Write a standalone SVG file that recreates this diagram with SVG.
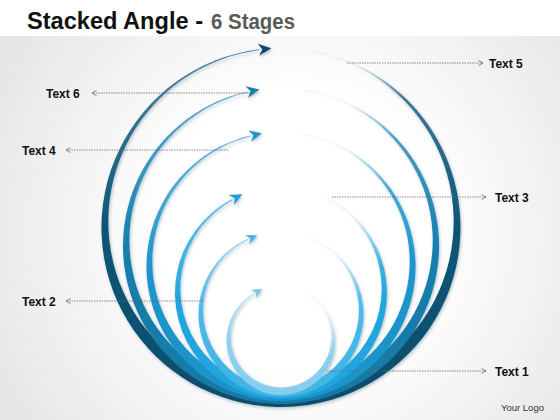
<svg xmlns="http://www.w3.org/2000/svg" width="560" height="420" viewBox="0 0 560 420">
  <defs>
    <radialGradient id="bg" cx="300" cy="230" r="340" gradientUnits="userSpaceOnUse">
      <stop offset="0.4" stop-color="#ffffff"/>
      <stop offset="1" stop-color="#e6e6e6"/>
    </radialGradient>
    <radialGradient id="mk">
      <stop offset="0" stop-color="#000" stop-opacity="1"/>
      <stop offset="0.45" stop-color="#000" stop-opacity="0.88"/>
      <stop offset="0.7" stop-color="#000" stop-opacity="0.5"/>
      <stop offset="1" stop-color="#000" stop-opacity="0"/>
    </radialGradient>
    <linearGradient id="g1" x1="0" y1="0" x2="0" y2="1"><stop offset="0" stop-color="#4a86a2"/><stop offset="0.5" stop-color="#0c5576"/><stop offset="1" stop-color="#0a4d6b"/></linearGradient>
    <linearGradient id="g2" x1="0" y1="0" x2="0" y2="1"><stop offset="0" stop-color="#5ea8cc"/><stop offset="0.5" stop-color="#157fae"/><stop offset="1" stop-color="#1379a6"/></linearGradient>
    <linearGradient id="g3" x1="0" y1="0" x2="0" y2="1"><stop offset="0" stop-color="#62b7de"/><stop offset="0.5" stop-color="#1b95cc"/><stop offset="1" stop-color="#1b93c9"/></linearGradient>
    <linearGradient id="g4" x1="0" y1="0" x2="0" y2="1"><stop offset="0" stop-color="#68c2ea"/><stop offset="0.5" stop-color="#22a6df"/><stop offset="1" stop-color="#20a4de"/></linearGradient>
    <linearGradient id="g5" x1="0" y1="0" x2="0" y2="1"><stop offset="0" stop-color="#8ad2f0"/><stop offset="0.5" stop-color="#47b9e8"/><stop offset="1" stop-color="#3fb5e6"/></linearGradient>
    <linearGradient id="g6" x1="0" y1="0" x2="0" y2="1"><stop offset="0" stop-color="#bde4f6"/><stop offset="0.5" stop-color="#8ed0ef"/><stop offset="1" stop-color="#86cdee"/></linearGradient>
    <mask id="k1" maskUnits="userSpaceOnUse" x="0" y="0" width="560" height="420"><rect width="560" height="420" fill="#fff"/><circle cx="342" cy="25.7" r="96" fill="url(#mk)"/></mask>
    <mask id="k2" maskUnits="userSpaceOnUse" x="0" y="0" width="560" height="420"><rect width="560" height="420" fill="#fff"/><circle cx="335" cy="64.8" r="96" fill="url(#mk)"/></mask>
    <mask id="k3" maskUnits="userSpaceOnUse" x="0" y="0" width="560" height="420"><rect width="560" height="420" fill="#fff"/><circle cx="333" cy="108.8" r="96" fill="url(#mk)"/></mask>
    <mask id="k4" maskUnits="userSpaceOnUse" x="0" y="0" width="560" height="420"><rect width="560" height="420" fill="#fff"/><circle cx="357" cy="172.5" r="96" fill="url(#mk)"/></mask>
    <mask id="k5" maskUnits="userSpaceOnUse" x="0" y="0" width="560" height="420"><rect width="560" height="420" fill="#fff"/><circle cx="335" cy="210.6" r="92" fill="url(#mk)"/></mask>
    <mask id="k6" maskUnits="userSpaceOnUse" x="0" y="0" width="560" height="420"><rect width="560" height="420" fill="#fff"/><circle cx="339" cy="268.7" r="90" fill="url(#mk)"/></mask>
    <filter id="sh" x="-10%" y="-10%" width="120%" height="120%">
      <feDropShadow dx="1" dy="1.5" stdDeviation="1.5" flood-color="#0a3a55" flood-opacity="0.3"/>
    </filter>
    <path id="ah" d="M12,0 L-1,-6 L3,0 L-1,6 Z"/>
    <marker id="m" viewBox="0 0 6 6" refX="5" refY="3" markerWidth="6" markerHeight="6" markerUnits="userSpaceOnUse" orient="auto">
      <path d="M0.5,0.5 L5,3 L0.5,5.5" fill="none" stroke="#6b6b6b" stroke-width="0.8"/>
    </marker>
  </defs>
  <style>
    .lbl { font-family: "Liberation Sans", Arial, sans-serif; font-weight: bold; font-size: 12px; fill: #111; }
    .con { fill: none; stroke: #6b6b6b; stroke-width: 0.8; stroke-dasharray: 1.5 1; marker-end: url(#m); }
  </style>

  <rect x="0" y="0" width="560" height="420" fill="url(#bg)"/>
  <rect x="0" y="0" width="560" height="36" fill="#ffffff"/>

  <g id="title" font-family="'Liberation Sans', Arial, sans-serif" font-weight="bold">
    <text x="27" y="29" font-size="23" fill="#111" textLength="176" lengthAdjust="spacingAndGlyphs">Stacked Angle -</text>
    <text x="211" y="29" font-size="22" fill="#5a5a5a" textLength="84" lengthAdjust="spacingAndGlyphs">6 Stages</text>
  </g>

  <g id="rings" filter="url(#sh)">
    <g id="ring1">
      <path fill="url(#g1)" mask="url(#k1)" d="M312,50.70 A179.5,179.5 0 1 1 259,49.35 L259.83,50.10 A172.7,172.7 0 1 0 310.83,51.40 Z"/>
      <use href="#ah" fill="#0d4d6b" transform="translate(259.4,49.7) rotate(-7)"/>
    </g>
    <g id="ring2">
      <path fill="url(#g2)" mask="url(#k2)" d="M305,89.83 A158,158 0 1 1 247,91.70 L248.36,92.36 A151.7,151.7 0 1 0 304.04,90.56 Z"/>
      <use href="#ah" fill="#157fae" transform="translate(247.7,92) rotate(-12.4)"/>
    </g>
    <g id="ring3">
      <path fill="url(#g3)" mask="url(#k3)" d="M303,133.81 A134.5,134.5 0 1 1 250,135.62 L251.34,136.26 A128.7,128.7 0 1 0 302.05,134.53 Z"/>
      <use href="#ah" fill="#1b95cc" transform="translate(250.7,135.9) rotate(-13.3) scale(0.95)"/>
    </g>
    <g id="ring4">
      <path fill="url(#g4)" mask="url(#k4)" d="M327,197.50 A106,106 0 1 1 231,199.53 L233.50,199.71 A100.7,100.7 0 1 0 324.70,197.78 Z"/>
      <use href="#ah" fill="#1f9fd8" transform="translate(232.2,199.6) rotate(-28) scale(0.95)"/>
    </g>
    <g id="ring5">
      <path fill="url(#g5)" mask="url(#k5)" d="M305,235.57 A82.5,82.5 0 1 1 247,239.33 L248.90,239.52 A77.9,77.9 0 1 0 303.66,235.97 Z"/>
      <use href="#ah" fill="#4ab6e2" transform="translate(248,239.4) rotate(-24.3) scale(0.85)"/>
    </g>
    <g id="ring6">
      <path fill="url(#g6)" mask="url(#k6)" d="M309,293.74 A54.5,54.5 0 1 1 253,293.74 L255.11,293.76 A50.4,50.4 0 1 0 306.89,293.76 Z"/>
      <use href="#ah" fill="#7cc6e6" transform="translate(254,293.7) rotate(-31) scale(0.8)"/>
    </g>
  </g>

  <g id="connectors">
    <line class="con" x1="347" y1="63" x2="483" y2="63"/>
    <line class="con" x1="250" y1="93" x2="92" y2="93"/>
    <line class="con" x1="228" y1="150" x2="66" y2="150"/>
    <line class="con" x1="332" y1="197" x2="486" y2="197"/>
    <line class="con" x1="203" y1="301" x2="66" y2="301"/>
    <line class="con" x1="327" y1="371" x2="486" y2="371"/>
  </g>

  <g id="text5"><text class="lbl" x="489" y="67.5">Text 5</text></g>
  <g id="text6"><text class="lbl" x="46" y="97.5">Text 6</text></g>
  <g id="text4"><text class="lbl" x="22" y="154.5">Text 4</text></g>
  <g id="text3"><text class="lbl" x="495" y="201.5">Text 3</text></g>
  <g id="text2"><text class="lbl" x="22" y="305.5">Text 2</text></g>
  <g id="text1"><text class="lbl" x="495" y="375.5">Text 1</text></g>
  <g id="logo"><text x="501" y="411" font-family="'Liberation Sans', Arial, sans-serif" font-size="9.5" fill="#333">Your Logo</text></g>
</svg>
